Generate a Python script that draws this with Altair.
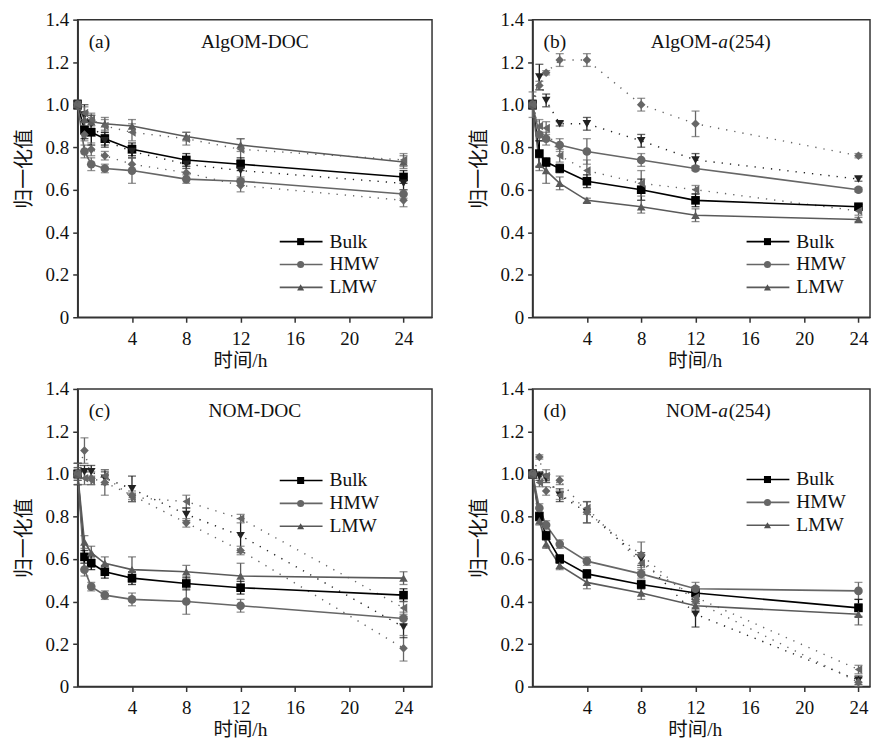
import altair as alt
import pandas as pd

SERIF = "Liberation Serif"
CJK = "Liberation Serif, Noto Sans CJK SC"

T = [0, 0.5, 1, 2, 4, 8, 12, 24]
SERIES = ["Bulk", "HMW", "LMW"]

# ---- panel (a) AlgOM-DOC ----
A_BULK = [1.00, 0.88, 0.87, 0.84, 0.79, 0.74, 0.72, 0.66]
A_HMW = [1.00, 0.78, 0.72, 0.70, 0.69, 0.65, 0.64, 0.58]
A_LMW = [1.00, 0.93, 0.92, 0.91, 0.90, 0.85, 0.81, 0.73]
A_BULK_D = [1.00, 0.95, 0.91, 0.83, 0.78, 0.72, 0.69, 0.63]
A_HMW_D = [1.00, 0.86, 0.79, 0.76, 0.72, 0.68, 0.62, 0.55]
A_LMW_D = [1.00, 0.96, 0.93, 0.90, 0.87, 0.84, 0.79, 0.74]
A_BULK_E = [0.02, 0.04, 0.06, 0.03, 0.03, 0.03, 0.03, 0.03]
A_HMW_E = [0.02, 0.03, 0.03, 0.02, 0.06, 0.02, 0.02, 0.02]
A_LMW_E = [0.02, 0.03, 0.03, 0.03, 0.03, 0.02, 0.03, 0.03]
A_BULK_DE = [0.02, 0.05, 0.04, 0.03, 0.03, 0.02, 0.05, 0.03]
A_HMW_DE = [0.02, 0.03, 0.03, 0.02, 0.03, 0.03, 0.03, 0.03]
A_LMW_DE = [0.02, 0.03, 0.03, 0.03, 0.04, 0.03, 0.05, 0.03]

# ---- panel (b) AlgOM-a(254) ----
B_BULK = [1.00, 0.77, 0.73, 0.70, 0.64, 0.60, 0.55, 0.52]
B_HMW = [1.00, 0.86, 0.84, 0.81, 0.78, 0.74, 0.70, 0.60]
B_LMW = [1.00, 0.72, 0.69, 0.63, 0.55, 0.52, 0.48, 0.46]
B_BULK_D = [1.00, 1.13, 1.02, 0.91, 0.91, 0.83, 0.74, 0.65]
B_HMW_D = [1.00, 1.09, 1.15, 1.21, 1.21, 1.00, 0.91, 0.76]
B_LMW_D = [1.00, 0.90, 0.89, 0.76, 0.69, 0.63, 0.60, 0.50]
B_BULK_E = [0.02, 0.06, 0.02, 0.02, 0.03, 0.05, 0.03, 0.01]
B_HMW_E = [0.02, 0.03, 0.03, 0.03, 0.06, 0.03, 0.01, 0.01]
B_LMW_E = [0.02, 0.03, 0.06, 0.03, 0.01, 0.03, 0.03, 0.01]
B_BULK_DE = [0.02, 0.06, 0.03, 0.01, 0.03, 0.03, 0.03, 0.01]
B_HMW_DE = [0.02, 0.02, 0.01, 0.03, 0.03, 0.03, 0.06, 0.01]
B_LMW_DE = [0.06, 0.03, 0.03, 0.03, 0.05, 0.06, 0.02, 0.02]

# ---- panel (c) NOM-DOC ----
C_BULK = [1.00, 0.61, 0.58, 0.54, 0.51, 0.485, 0.465, 0.43]
C_HMW = [1.00, 0.55, 0.47, 0.43, 0.41, 0.40, 0.38, 0.32]
C_LMW = [1.00, 0.68, 0.63, 0.58, 0.55, 0.54, 0.52, 0.51]
C_BULK_D = [1.00, 1.01, 1.01, 0.98, 0.93, 0.81, 0.71, 0.28]
C_HMW_D = [1.00, 1.11, 0.98, 0.96, 0.90, 0.77, 0.64, 0.18]
C_LMW_D = [1.00, 0.98, 0.97, 0.99, 0.89, 0.87, 0.79, 0.37]
C_BULK_E = [0.05, 0.03, 0.03, 0.03, 0.03, 0.03, 0.03, 0.03]
C_HMW_E = [0.02, 0.03, 0.02, 0.02, 0.03, 0.06, 0.03, 0.03]
C_LMW_E = [0.05, 0.03, 0.03, 0.03, 0.06, 0.03, 0.06, 0.03]
C_BULK_DE = [0.03, 0.03, 0.03, 0.03, 0.06, 0.03, 0.08, 0.05]
C_HMW_DE = [0.05, 0.06, 0.03, 0.06, 0.02, 0.02, 0.02, 0.06]
C_LMW_DE = [0.03, 0.03, 0.02, 0.03, 0.02, 0.03, 0.02, 0.03]

# ---- panel (d) NOM-a(254) ----
D_BULK = [1.00, 0.80, 0.71, 0.60, 0.53, 0.48, 0.44, 0.37]
D_HMW = [1.00, 0.84, 0.76, 0.67, 0.59, 0.53, 0.46, 0.45]
D_LMW = [1.00, 0.78, 0.67, 0.57, 0.49, 0.44, 0.38, 0.34]
D_BULK_D = [1.00, 0.99, 0.98, 0.90, 0.82, 0.60, 0.34, 0.03]
D_HMW_D = [1.00, 1.08, 0.92, 0.97, 0.82, 0.62, 0.40, 0.02]
D_LMW_D = [1.00, 0.96, 0.99, 0.90, 0.84, 0.58, 0.42, 0.08]
D_BULK_E = [0.02, 0.02, 0.02, 0.02, 0.02, 0.02, 0.03, 0.04]
D_HMW_E = [0.02, 0.02, 0.02, 0.02, 0.02, 0.02, 0.03, 0.04]
D_LMW_E = [0.02, 0.02, 0.02, 0.02, 0.03, 0.03, 0.03, 0.05]
D_BULK_DE = [0.02, 0.02, 0.02, 0.03, 0.05, 0.03, 0.06, 0.02]
D_HMW_DE = [0.02, 0.01, 0.02, 0.02, 0.05, 0.06, 0.03, 0.02]
D_LMW_DE = [0.02, 0.02, 0.03, 0.02, 0.03, 0.04, 0.03, 0.02]

PANELS = {
    "a": ([A_BULK, A_HMW, A_LMW], [A_BULK_D, A_HMW_D, A_LMW_D],
          [A_BULK_E, A_HMW_E, A_LMW_E], [A_BULK_DE, A_HMW_DE, A_LMW_DE]),
    "b": ([B_BULK, B_HMW, B_LMW], [B_BULK_D, B_HMW_D, B_LMW_D],
          [B_BULK_E, B_HMW_E, B_LMW_E], [B_BULK_DE, B_HMW_DE, B_LMW_DE]),
    "c": ([C_BULK, C_HMW, C_LMW], [C_BULK_D, C_HMW_D, C_LMW_D],
          [C_BULK_E, C_HMW_E, C_LMW_E], [C_BULK_DE, C_HMW_DE, C_LMW_DE]),
    "d": ([D_BULK, D_HMW, D_LMW], [D_BULK_D, D_HMW_D, D_LMW_D],
          [D_BULK_E, D_HMW_E, D_LMW_E], [D_BULK_DE, D_HMW_DE, D_LMW_DE]),
}

KEYS = ["Bulk-s", "HMW-s", "LMW-s", "Bulk-d", "HMW-d", "LMW-d"]
LINE_COLORS = ["#000000", "#666666", "#5a5a5a", "#222222", "#666666", "#666666"]
MARK_COLORS = ["#000000", "#666666", "#505050", "#111111", "#606060", "#555555"]
SHAPES_DARK = ["square", "circle", "triangle-up", "triangle-down", "diamond", "triangle-left"]
SHAPES_SAME = ["square", "circle", "triangle-up", "square", "circle", "triangle-up"]

Y_TICKS = [0, 0.2, 0.4, 0.6, 0.8, 1.0, 1.2, 1.4]
X_TICKS = [4, 8, 12, 16, 20, 24]


def make_df(letter):
    solid, dotted, esolid, edotted = PANELS[letter]
    rows = []
    for i, name in enumerate(SERIES):
        for vals, errs, sty in ((solid[i], esolid[i], "s"), (dotted[i], edotted[i], "d")):
            for t, v, e in zip(T, vals, errs):
                rows.append({"key": f"{name}-{sty}", "style": sty, "t": t, "v": v,
                             "lo": v - e, "hi": v + e})
    return pd.DataFrame(rows)


def text_layer(txt, x, y, align="left", style="normal", size=19.5):
    return alt.Chart(alt.Data(values=[{}])).mark_text(
        text=txt, align=align, baseline="middle", font=SERIF, fontSize=size,
        fontStyle=style, color="#111"
    ).encode(x=alt.value(x), y=alt.value(y))


def panel(letter, prefix, italic, width, xmax, shapes, leg_x, leg_y):
    df = make_df(letter)
    base = alt.Chart(df)
    xs = alt.Scale(domain=[0, xmax], nice=False, zero=False)
    ys = alt.Scale(domain=[0, 1.4], nice=False)
    xax = alt.Axis(values=X_TICKS, title="时间/h", titleX=163, labelPadding=7,
                   titlePadding=3, format="d", labelFont=SERIF, labelFontSize=19,
                   titleFont=CJK, titleFontSize=19.5, titleFontWeight="normal")
    yax = alt.Axis(values=Y_TICKS, title="归一化值", titlePadding=11, labelPadding=4,
                   labelFont=SERIF, labelFontSize=19, titleFont=CJK, titleFontSize=20,
                   titleFontWeight="normal",
                   labelExpr="datum.value == 0 ? '0' : format(datum.value, '.1f')")
    X = alt.X("t:Q", scale=xs, axis=xax)
    Y = alt.Y("v:Q", scale=ys, axis=yax)
    col = alt.Color("key:N", scale=alt.Scale(domain=KEYS, range=LINE_COLORS), legend=None)
    mcol = alt.Color("key:N", scale=alt.Scale(domain=KEYS, range=MARK_COLORS), legend=None)
    shp = alt.Shape("key:N", scale=alt.Scale(domain=KEYS, range=shapes), legend=None)

    dotted = base.transform_filter("datum.style == 'd'").mark_line(
        strokeWidth=1.4, strokeDash=[1.3, 7]).encode(x=X, y=Y, color=col)
    solid = base.transform_filter("datum.style == 's'").mark_line(
        strokeWidth=1.6).encode(x=X, y=Y, color=col)
    rule = base.mark_rule(strokeWidth=1.3).encode(
        x=X, y=alt.Y("lo:Q", scale=ys, axis=yax), y2="hi:Q", color=mcol)
    cap_lo = base.mark_tick(orient="horizontal", size=8, thickness=1.3).encode(
        x=X, y=alt.Y("lo:Q", scale=ys, axis=yax), color=mcol)
    cap_hi = base.mark_tick(orient="horizontal", size=8, thickness=1.3).encode(
        x=X, y=alt.Y("hi:Q", scale=ys, axis=yax), color=mcol)
    pts = base.mark_point(filled=True, size=75, opacity=1).encode(
        x=X, y=Y, color=mcol, shape=shp)

    layers = [dotted, solid, rule, cap_lo, cap_hi, pts]

    # panel label and title
    layers.append(text_layer(f"({letter})", 11, 22))
    if italic:
        layers.append(text_layer(prefix, 186, 22, align="right"))
        layers.append(text_layer("a", 186.5, 22, style="italic"))
        layers.append(text_layer("(254)", 197, 22))
    else:
        layers.append(text_layer(prefix, 178, 22, align="center"))

    # legend
    for i, name in enumerate(SERIES):
        yy = leg_y + i * 23
        one = alt.Data(values=[{}])
        layers.append(alt.Chart(one).mark_rule(strokeWidth=1.6, color=LINE_COLORS[i]).encode(
            x=alt.value(leg_x), x2=alt.value(leg_x + 43), y=alt.value(yy)))
        layers.append(alt.Chart(one).mark_point(
            shape=SHAPES_DARK[i], filled=True, size=50, opacity=1, color=MARK_COLORS[i]
        ).encode(x=alt.value(leg_x + 21), y=alt.value(yy)))
        layers.append(text_layer(name, leg_x + 50, yy))

    return alt.layer(*layers).properties(width=width, height=299)


pa = panel("a", "AlgOM-DOC", False, 356, 26.1, SHAPES_DARK, 203, 223)
pb = panel("b", "AlgOM-", True, 339, 24.85, SHAPES_SAME, 215, 223)
pc = panel("c", "NOM-DOC", False, 356, 26.1, SHAPES_DARK, 203, 92)
pd_ = panel("d", "NOM-", True, 339, 24.85, SHAPES_DARK, 215, 91)

row1 = alt.hconcat(pa, pb, spacing=35)
row2 = alt.hconcat(pc, pd_, spacing=35)

chart = alt.vconcat(row1, row2, spacing=8).properties(
    padding={"left": 5, "top": 0, "right": 0, "bottom": 0}
).configure_view(
    stroke="#333", strokeWidth=1.5
).configure_axis(
    grid=False, domainColor="#333", domainWidth=1.5, tickColor="#333", tickWidth=1.5,
    tickSize=5, labelFont=SERIF, labelFontSize=19, labelColor="#111",
    titleFont=CJK, titleFontSize=19.5, titleFontWeight="normal", titleColor="#111"
)

chart.save("out.html", embed_options={"renderer": "svg", "actions": False})
